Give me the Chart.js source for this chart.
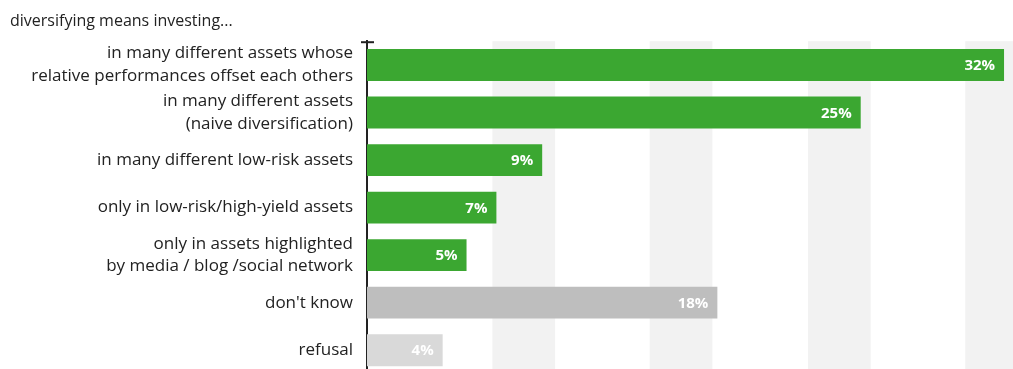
<!DOCTYPE html>
<html>
<head>
<meta charset="utf-8">
<script src="https://cdn.jsdelivr.net/npm/chart.js@4/dist/chart.umd.min.js"></script>
<style>
  html, body { margin: 0; padding: 0; background: #fff; overflow: hidden; }
  canvas { display: block; }
</style>
</head>
<body>
<canvas id="chart" width="1013" height="378"></canvas>
<script>
const titleText = 'diversifying means investing...';

const categories = [
  ['in many different assets whose', 'relative performances offset each others'],
  ['in many different assets', '(naive diversification)'],
  'in many different low-risk assets',
  'only in low-risk/high-yield assets',
  ['only in assets highlighted', 'by media / blog /social network'],
  "don't know",
  'refusal'
];
// bar lengths; the printed labels are rounded
const shares = [32.0, 24.8, 8.8, 6.5, 5.0, 17.6, 3.8];
const barColors = ['#3ba731', '#3ba731', '#3ba731', '#3ba731', '#3ba731', '#bebebe', '#d9d9d9'];

// background stripes, in % units of the x axis
const stripes = [[6.3, 9.45], [14.2, 17.35], [22.15, 25.3], [30.05, 34]];

const $ = (id) => document.getElementById(id);

const stripePlugin = {
  id: 'stripes',
  beforeDatasetsDraw(chart) {
    const { ctx, chartArea, scales: { x } } = chart;
    ctx.save();
    ctx.fillStyle = '#f2f2f2';
    stripes.forEach(([a, b]) => {
      const x1 = x.getPixelForValue(a);
      const x2 = Math.min(x.getPixelForValue(b), chartArea.right);
      ctx.fillRect(x1, chartArea.top, x2 - x1, chartArea.bottom - chartArea.top);
    });
    ctx.restore();
  }
};

const labelPlugin = {
  id: 'barLabels',
  afterDatasetsDraw(chart) {
    const { ctx, chartArea } = chart;
    const meta = chart.getDatasetMeta(0);
    ctx.save();
    ctx.font = 'bold 15px "Open Sans", sans-serif';
    ctx.fillStyle = '#ffffff';
    ctx.textAlign = 'right';
    ctx.textBaseline = 'middle';
    meta.data.forEach((bar, i) => {
      ctx.fillText(Math.round(shares[i]) + '%', bar.x - 9, bar.y + 1);
    });
    // small cap on top of the axis
    const ax = chart.scales.y.right;
    ctx.strokeStyle = '#222';
    ctx.lineWidth = 2;
    ctx.beginPath();
    ctx.moveTo(ax - 6, chartArea.top + 1);
    ctx.lineTo(ax + 7, chartArea.top + 1);
    ctx.stroke();
    ctx.restore();
  }
};

new Chart($('chart'), {
  type: 'bar',
  data: {
    labels: categories,
    datasets: [{
      data: shares,
      backgroundColor: barColors,
      categoryPercentage: 1,
      barPercentage: 0.67
    }]
  },
  options: {
    indexAxis: 'y',
    responsive: false,
    animation: false,
    layout: { padding: { left: 10, right: 0, top: 0, bottom: 4 } },
    plugins: {
      legend: { display: false },
      tooltip: { enabled: false },
      title: {
        display: true,
        text: titleText,
        align: 'start',
        color: '#222',
        font: { family: '"Open Sans", sans-serif', size: 16, weight: 'normal' },
        padding: { top: 12, bottom: 10 }
      }
    },
    scales: {
      x: {
        display: false,
        min: 0,
        max: 32.45
      },
      y: {
        grid: { display: false },
        border: { display: true, color: '#222', width: 2 },
        ticks: {
          color: '#222',
          padding: 6,
          autoSkip: false,
          font: { family: '"Open Sans", sans-serif', size: 17, lineHeight: 1.35 }
        },
        afterFit: (scale) => {
          scale.width = 357;
          scale.paddingTop = 0;
          scale.paddingBottom = 0;
        }
      }
    }
  },
  plugins: [stripePlugin, labelPlugin]
});
</script>
</body>
</html>
